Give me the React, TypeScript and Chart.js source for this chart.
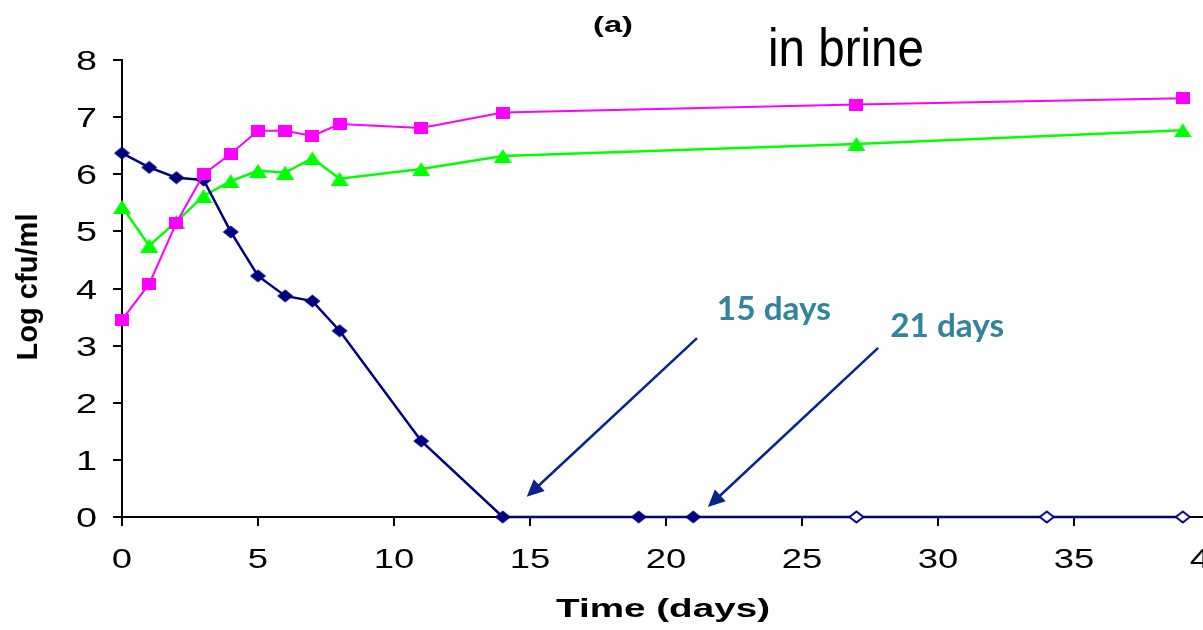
import React, { useEffect, useRef } from "react";
import { Chart, registerables } from "chart.js";

Chart.register(...registerables);

// ---- data ----
const navyDays = [0, 1, 2, 3, 4, 5, 6, 7, 8, 11, 14, 19, 21, 27, 34, 39];
const navyLog = [6.37, 6.12, 5.94, 5.9, 4.99, 4.22, 3.87, 3.78, 3.26, 1.33, 0, 0, 0, 0, 0, 0];
const navyDetected = [true, true, true, true, true, true, true, true, true, true, true, true, true, false, false, false];
const otherDays = [0, 1, 2, 3, 4, 5, 6, 7, 8, 11, 14, 27, 39];
const magentaLog = [3.45, 4.08, 5.15, 6.0, 6.36, 6.76, 6.76, 6.67, 6.88, 6.81, 7.08, 7.22, 7.33];
const greenLog = [5.43, 4.75, 5.17, 5.62, 5.88, 6.06, 6.03, 6.28, 5.92, 6.09, 6.32, 6.53, 6.77];

const xMin = 0;
const xMax = 40;
const xStep = 5;
const yMin = 0;
const yMax = 8;
const yStep = 1;

const titleSmall = "(a)";
const titleBig = "in brine";
const xTitle = "Time (days)";
const yTitle = "Log cfu/ml";

const noteLabels = ["15 days", "21 days"];
const noteLabelX = [21.87, 28.24];
const noteLabelY = [3.45, 3.15];
const arrowFromX = [21.14, 27.8];
const arrowFromY = [3.13, 2.96];
const arrowToX = [14.88, 21.54];
const arrowToY = [0.355, 0.175];

// ---- styles ----
const NAVY = "#000080";
const MAGENTA = "#FF00FF";
const GREEN = "#00FF00";
const ARROW = "#0A2290";
const NOTE = "#31849B";
const SANS = "'Liberation Sans', Arial, sans-serif";

function makeMarker(w: number, h: number, draw: (c: CanvasRenderingContext2D) => void) {
  const c = document.createElement("canvas");
  c.width = w;
  c.height = h;
  const ctx = c.getContext("2d")!;
  draw(ctx);
  return c;
}

function drawText(
  ctx: CanvasRenderingContext2D,
  text: string,
  x: number,
  y: number,
  font: string,
  color: string,
  align: "left" | "center" | "right",
  opt: { scaleX?: number; scaleY?: number; width?: number; rotate?: number }
) {
  ctx.save();
  ctx.font = font;
  ctx.fillStyle = color;
  ctx.textAlign = "left";
  ctx.textBaseline = "alphabetic";
  const w = ctx.measureText(text).width;
  const sx = opt.width ? opt.width / w : opt.scaleX ?? 1;
  ctx.translate(x, y);
  if (opt.rotate) ctx.rotate(opt.rotate);
  ctx.scale(sx, opt.scaleY ?? 1);
  let dx = 0;
  if (align === "center") dx = -w / 2;
  else if (align === "right") dx = -w;
  ctx.fillText(text, dx, 0);
  ctx.restore();
}

const textPlugin = {
  id: "textsAndArrows",
  afterDraw(chart: any) {
    const ctx: CanvasRenderingContext2D = chart.ctx;
    const xs = chart.scales.x;
    const ys = chart.scales.y;
    // tick labels
    xs.ticks.forEach((t: any) => {
      drawText(ctx, String(t.value), xs.getPixelForValue(t.value), 568, `27px ${SANS}`, "#000", "center", { scaleX: 1.35 });
    });
    ys.ticks.forEach((t: any) => {
      drawText(ctx, String(t.value), 97, ys.getPixelForValue(t.value) + 10, `27px ${SANS}`, "#000", "right", { scaleX: 1.4 });
    });
    // axis titles
    drawText(ctx, xTitle, (xs.left + xs.getPixelForValue(40)) / 2 - 3, 617, `bold 26px ${SANS}`, "#000", "center", { width: 214 });
    drawText(ctx, yTitle, 37, 287, `bold 25px ${SANS}`, "#000", "center", { width: 147, scaleY: 1.2, rotate: -Math.PI / 2 });
    // titles
    drawText(ctx, titleSmall, 613, 32, `bold 22px ${SANS}`, "#000", "center", { width: 40 });
    drawText(ctx, titleBig, 768, 66, `53px ${SANS}`, "#000", "left", { width: 156 });
    // notes
    noteLabels.forEach((lab, i) => {
      drawText(ctx, lab, xs.getPixelForValue(noteLabelX[i]), ys.getPixelForValue(noteLabelY[i]), `bold 32px Lato, 'Open Sans', sans-serif`, NOTE, "left", { width: 114 });
    });
    // arrows
    arrowFromX.forEach((_, i) => {
      const x1 = xs.getPixelForValue(arrowFromX[i]);
      const y1 = ys.getPixelForValue(arrowFromY[i]);
      const x2 = xs.getPixelForValue(arrowToX[i]);
      const y2 = ys.getPixelForValue(arrowToY[i]);
      const ang = Math.atan2(y2 - y1, x2 - x1);
      const headL = 17;
      const headW = 8;
      const bx = x2 - headL * Math.cos(ang);
      const by = y2 - headL * Math.sin(ang);
      ctx.save();
      ctx.strokeStyle = ARROW;
      ctx.fillStyle = ARROW;
      ctx.lineWidth = 2.5;
      ctx.beginPath();
      ctx.moveTo(x1, y1);
      ctx.lineTo(bx + 2 * Math.cos(ang), by + 2 * Math.sin(ang));
      ctx.stroke();
      ctx.beginPath();
      ctx.moveTo(x2, y2);
      ctx.lineTo(bx + headW * Math.sin(ang), by - headW * Math.cos(ang));
      ctx.lineTo(bx - headW * Math.sin(ang), by + headW * Math.cos(ang));
      ctx.closePath();
      ctx.fill();
      ctx.restore();
    });
  },
};

export default function App() {
  const ref = useRef<HTMLCanvasElement>(null);
  useEffect(() => {
    const canvas = ref.current!;
    const diamondFilled = makeMarker(17, 14, (c) => {
      c.fillStyle = NAVY;
      c.beginPath();
      c.moveTo(8.5, 0.5);
      c.lineTo(16.5, 7);
      c.lineTo(8.5, 13.5);
      c.lineTo(0.5, 7);
      c.closePath();
      c.fill();
    });
    const diamondHollow = makeMarker(17, 14, (c) => {
      c.fillStyle = "#fff";
      c.strokeStyle = NAVY;
      c.lineWidth = 2;
      c.beginPath();
      c.moveTo(8.5, 1.5);
      c.lineTo(15.5, 7);
      c.lineTo(8.5, 12.5);
      c.lineTo(1.5, 7);
      c.closePath();
      c.fill();
      c.stroke();
    });
    const square = makeMarker(14, 12, (c) => {
      c.fillStyle = MAGENTA;
      c.fillRect(0, 0, 14, 12);
    });
    const triangle = makeMarker(18, 14, (c) => {
      c.fillStyle = GREEN;
      c.beginPath();
      c.moveTo(9, 0);
      c.lineTo(18, 14);
      c.lineTo(0, 14);
      c.closePath();
      c.fill();
    });

    const axisCommon = (min: number, max: number, step: number) => ({
      type: "linear" as const,
      min,
      max,
      ticks: { stepSize: step, display: false },
      grid: {
        drawOnChartArea: false,
        drawTicks: true,
        tickLength: 9,
        tickColor: "#000",
        tickWidth: 2,
        color: "#000",
        lineWidth: 2,
      },
      border: { display: true, color: "#000", width: 2 },
    });

    const chart = new Chart(canvas, {
      type: "scatter",
      data: {
        datasets: [
          {
            label: "magenta",
            data: otherDays.map((d, i) => ({ x: d, y: magentaLog[i] })),
            showLine: true,
            borderColor: MAGENTA,
            backgroundColor: MAGENTA,
            borderWidth: 2,
            pointStyle: square as any,
            pointRadius: 6,
            clip: false as any,
          },
          {
            label: "navy",
            data: navyDays.map((d, i) => ({ x: d, y: navyLog[i] })),
            showLine: true,
            borderColor: NAVY,
            backgroundColor: NAVY,
            borderWidth: 2.5,
            pointStyle: navyDetected.map((v) => (v ? diamondFilled : diamondHollow)) as any,
            pointRadius: 6,
            clip: false as any,
          },
          {
            label: "green",
            data: otherDays.map((d, i) => ({ x: d, y: greenLog[i] })),
            showLine: true,
            borderColor: GREEN,
            backgroundColor: GREEN,
            borderWidth: 2.5,
            pointStyle: triangle as any,
            pointRadius: 6,
            clip: false as any,
          },
        ],
      },
      options: {
        responsive: false,
        devicePixelRatio: 1,
        animation: false,
        events: [],
        layout: { padding: { left: 110, right: 50, top: 60, bottom: 101 }, autoPadding: false } as any,
        plugins: { legend: { display: false }, tooltip: { enabled: false }, title: { display: false } },
        elements: { line: { tension: 0 } },
        scales: {
          x: { ...axisCommon(xMin, xMax, xStep), afterFit: (s: any) => { s.height = 12; } } as any,
          y: { ...axisCommon(yMin, yMax, yStep), afterFit: (s: any) => { s.width = 12; } } as any,
        },
      },
      plugins: [textPlugin],
    });
    return () => chart.destroy();
  }, []);
  return (
    <div style={{ position: "fixed", left: 0, top: 0, width: 1203, height: 630, overflow: "hidden", background: "#fff" }}>
      <canvas ref={ref} width={1260} height={630} style={{ display: "block", width: 1260, height: 630 }} />
    </div>
  );
}
